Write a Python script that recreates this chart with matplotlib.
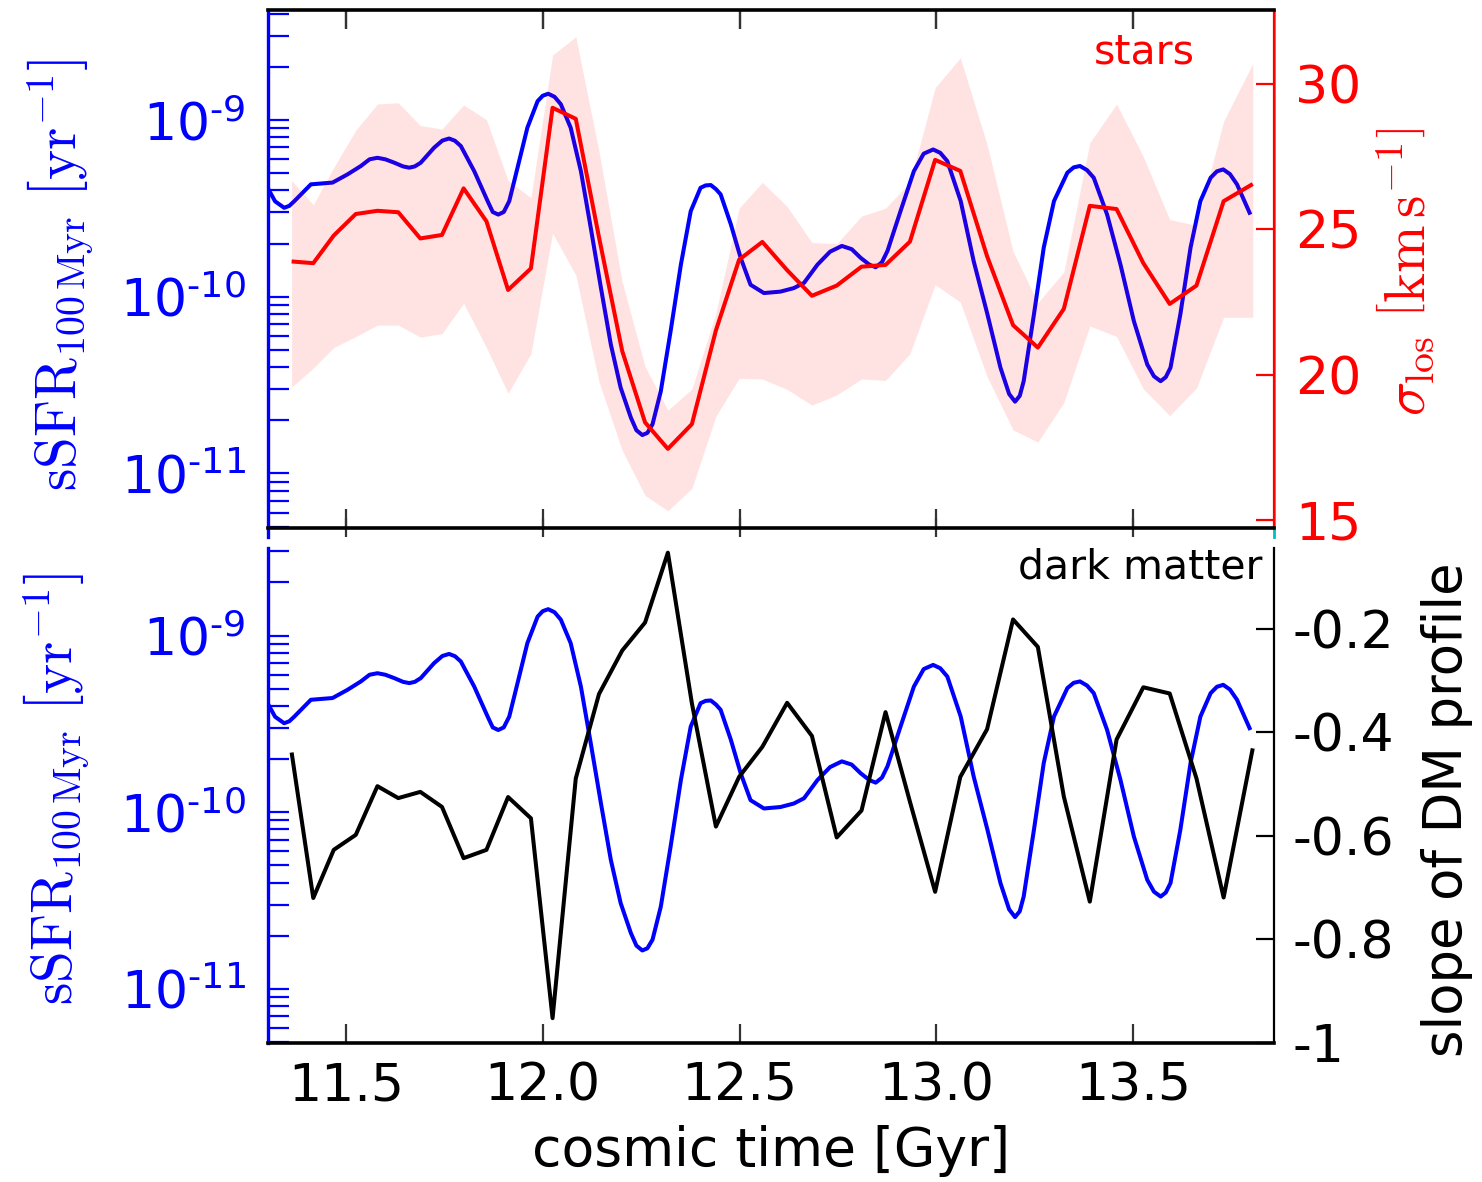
import numpy as np
import matplotlib
matplotlib.use("Agg")
import matplotlib.pyplot as plt
from matplotlib.ticker import FuncFormatter, LogLocator, FixedLocator, NullFormatter

plt.rcParams['axes.unicode_minus'] = False
plt.rcParams['font.family'] = ['DejaVu Sans']
plt.rcParams['mathtext.fontset'] = 'dejavusans'

# ---------------- data ----------------
# specific star formation rate (smooth curve), cosmic time in Gyr
t_ssfr = [11.301, 11.320, 11.343, 11.356, 11.369, 11.411, 11.466, 11.504, 11.538, 11.560,
          11.580, 11.600, 11.623, 11.645, 11.661, 11.675, 11.690, 11.724, 11.745, 11.762,
          11.777, 11.792, 11.826, 11.860, 11.873, 11.887, 11.901, 11.915, 11.936, 11.961,
          11.987, 12.000, 12.014, 12.030, 12.046, 12.071, 12.097, 12.122, 12.148, 12.173,
          12.198, 12.224, 12.238, 12.253, 12.266, 12.279, 12.300, 12.325, 12.351, 12.376,
          12.401, 12.414, 12.427, 12.440, 12.452, 12.478, 12.503, 12.528, 12.562, 12.604,
          12.638, 12.664, 12.698, 12.730, 12.760, 12.785, 12.808, 12.830, 12.846, 12.862,
          12.876, 12.909, 12.943, 12.968, 12.992, 13.010, 13.028, 13.062, 13.095, 13.130,
          13.163, 13.185, 13.200, 13.212, 13.222, 13.248, 13.273, 13.299, 13.333, 13.349,
          13.365, 13.383, 13.400, 13.434, 13.468, 13.502, 13.536, 13.553, 13.570, 13.583,
          13.595, 13.620, 13.646, 13.671, 13.697, 13.713, 13.729, 13.746, 13.764, 13.798]
ssfr = [4.14e-10, 3.47e-10, 3.19e-10, 3.27e-10, 3.48e-10, 4.33e-10, 4.43e-10, 4.93e-10, 5.50e-10, 6.00e-10,
        6.12e-10, 6.00e-10, 5.74e-10, 5.47e-10, 5.38e-10, 5.47e-10, 5.74e-10, 6.98e-10, 7.66e-10, 7.87e-10,
        7.64e-10, 7.13e-10, 5.14e-10, 3.48e-10, 3.02e-10, 2.92e-10, 3.02e-10, 3.48e-10, 5.38e-10, 9.06e-10,
        1.28e-9, 1.374e-9, 1.41e-9, 1.355e-9, 1.23e-9, 9.06e-10, 5.14e-10, 2.46e-10, 1.12e-10, 5.38e-11,
        3.06e-11, 2.07e-11, 1.758e-11, 1.65e-11, 1.698e-11, 1.90e-11, 2.92e-11, 6.40e-11, 1.52e-10, 3.05e-10,
        4.14e-10, 4.27e-10, 4.29e-10, 4.07e-10, 3.80e-10, 2.57e-10, 1.66e-10, 1.17e-10, 1.05e-10, 1.07e-10,
        1.12e-10, 1.20e-10, 1.52e-10, 1.80e-10, 1.94e-10, 1.86e-10, 1.66e-10, 1.52e-10, 1.47e-10, 1.57e-10,
        1.82e-10, 3.05e-10, 5.14e-10, 6.46e-10, 6.82e-10, 6.53e-10, 5.86e-10, 3.48e-10, 1.59e-10, 7.94e-11,
        3.97e-11, 2.82e-11, 2.55e-11, 2.75e-11, 3.33e-11, 7.94e-11, 1.90e-10, 3.48e-10, 5.04e-10, 5.40e-10,
        5.50e-10, 5.21e-10, 4.72e-10, 2.92e-10, 1.52e-10, 7.28e-11, 4.14e-11, 3.55e-11, 3.33e-11, 3.51e-11,
        3.97e-11, 7.94e-11, 1.90e-10, 3.48e-10, 4.72e-10, 5.13e-10, 5.26e-10, 4.95e-10, 4.33e-10, 2.92e-10]

# snapshot times
t_snap = [11.362, 11.417, 11.469, 11.525, 11.580, 11.633, 11.689, 11.744, 11.799, 11.857,
          11.912, 11.970, 12.025, 12.084, 12.143, 12.202, 12.260, 12.318, 12.379, 12.440,
          12.499, 12.558, 12.621, 12.684, 12.747, 12.810, 12.871, 12.933, 12.997, 13.061,
          13.129, 13.195, 13.258, 13.324, 13.390, 13.458, 13.526, 13.593, 13.661, 13.730, 13.804]
# stellar line-of-sight velocity dispersion [km/s]
sigma_los = [23.89, 23.83, 24.78, 25.52, 25.63, 25.58, 24.68, 24.80, 26.40, 25.27,
             22.91, 23.65, 29.17, 28.79, 24.72, 20.81, 18.36, 17.45, 18.30, 21.52,
             23.95, 24.56, 23.59, 22.71, 23.06, 23.71, 23.77, 24.57, 27.38, 27.00,
             24.07, 21.70, 20.93, 22.26, 25.80, 25.69, 23.83, 22.43, 23.06, 25.96, 26.55]
sigma_hi = [26.67, 25.84, 27.12, 28.40, 29.30, 29.34, 28.56, 28.44, 29.27, 28.76,
            26.67, 26.08, 30.98, 31.61, 27.67, 23.18, 20.28, 18.78, 19.51, 22.12,
            25.72, 26.61, 25.78, 24.54, 24.50, 25.45, 25.72, 26.61, 29.86, 30.89,
            27.91, 24.24, 22.47, 23.53, 27.97, 29.30, 27.49, 25.33, 25.13, 28.71, 30.69]
sigma_lo = [19.57, 20.22, 20.93, 21.31, 21.70, 21.70, 21.29, 21.41, 22.45, 20.93,
            19.36, 20.72, 24.86, 23.42, 19.75, 17.39, 15.85, 15.32, 16.09, 18.57,
            19.87, 19.85, 19.49, 18.95, 19.30, 19.85, 19.80, 20.72, 23.09, 22.49,
            19.93, 18.10, 17.68, 19.04, 21.67, 21.31, 19.51, 18.59, 19.54, 21.97, 21.97]
# slope of the dark matter density profile
dm_slope = [-0.439, -0.720, -0.627, -0.598, -0.504, -0.527, -0.515, -0.544, -0.643, -0.627,
            -0.525, -0.566, -0.952, -0.489, -0.326, -0.242, -0.188, -0.053, -0.344, -0.582,
            -0.486, -0.428, -0.343, -0.407, -0.603, -0.551, -0.361, -0.534, -0.708, -0.486,
            -0.394, -0.182, -0.235, -0.524, -0.727, -0.414, -0.313, -0.325, -0.489, -0.719, -0.431]

x_ticks = [11.5, 12.0, 12.5, 13.0, 13.5]
ssfr_major_ticks = [1e-11, 1e-10, 1e-9]
sigma_ticks = [15, 20, 25, 30]
slope_ticks = [-1.0, -0.8, -0.6, -0.4, -0.2]

# ---------------- figure ----------------
W, H = 1482, 1182
fig = plt.figure(figsize=(W / 100, H / 100), dpi=100)


def frac(x0, y0, x1, y1):
    return [x0 / W, 1 - y1 / H, (x1 - x0) / W, (y1 - y0) / H]


BIG = 37.5
LAB = 41
BLUE = '#0000ff'
TICKC = '#333333'

ax_sb = fig.add_axes(frac(268, 10, 1274, 537))
ax_r = fig.add_axes(frac(268, 10, 1274, 528), sharex=ax_sb)
ax_sb2 = fig.add_axes(frac(268, 548, 1274, 1043), sharex=ax_sb)
ax_k = fig.add_axes(frac(268, 548, 1274, 1043), sharex=ax_sb)

xlim = (11.302, 13.858)


def logfmt(v, pos):
    e = int(round(np.log10(v)))
    return r'$\mathdefault{10^{\text{-}%d}}$' % (-e)


def setup_log(ax, ylim):
    ax.set_yscale('log')
    ax.set_ylim(*ylim)
    ax.yaxis.set_major_locator(FixedLocator(ssfr_major_ticks))
    ax.yaxis.set_minor_locator(LogLocator(base=10, subs=np.arange(2, 10), numticks=20))
    ax.yaxis.set_major_formatter(FuncFormatter(logfmt))
    ax.yaxis.set_minor_formatter(NullFormatter())
    ax.tick_params(axis='y', which='both', direction='in', length=15, width=1.6,
                   color=BLUE, labelcolor=BLUE, labelsize=BIG, pad=16, left=True, right=False)
    ax.spines['left'].set_color(BLUE)
    ax.spines['left'].set_linewidth(2.4)
    ax.spines['top'].set_visible(False)


LINE_KW = dict(lw=2.9, solid_joinstyle='round', solid_capstyle='butt')

# ---- top panel: sSFR (blue, log) ----
ax_sb.plot(t_ssfr, ssfr, color=BLUE, **LINE_KW)
setup_log(ax_sb, (4.37e-12, 4.2e-9))
ax_sb.spines['bottom'].set_visible(False)
ax_sb.spines['right'].set_color('c')
ax_sb.spines['right'].set_linewidth(2.0)
ax_sb.set_xlim(*xlim)
ax_sb.set_xticks(x_ticks)
ax_sb.tick_params(axis='x', which='major', direction='in', length=14, width=1.6, color=TICKC,
                  top=True, bottom=True, labelbottom=False)
ax_sb.tick_params(axis='x', which='minor', bottom=False, top=False)
ax_sb.set_ylabel(r'$\mathrm{sSFR}_{\mathrm{100\,Myr}}\ \left[\mathrm{yr}^{-1}\right]$',
                 color=BLUE, fontsize=LAB, math_fontfamily='cm')
ax_sb.yaxis.set_label_coords(-0.171, 0.498)

# ---- top panel: sigma_los (red) ----
ax_r.patch.set_visible(False)
ax_r.fill_between(t_snap, sigma_lo, sigma_hi, color='red', alpha=0.11, lw=0)
ax_r.plot(t_snap, sigma_los, color='red', **LINE_KW)
ax_r.set_ylim(14.73, 32.53)
ax_r.yaxis.tick_right()
ax_r.yaxis.set_label_position('right')
ax_r.yaxis.set_major_locator(FixedLocator(sigma_ticks))
ax_r.yaxis.set_major_formatter(FuncFormatter(lambda v, p: '%d' % v))
ax_r.tick_params(axis='y', direction='in', length=13, width=1.6, color='red', labelcolor='red',
                 labelsize=BIG, pad=15, left=False, right=True)
ax_r.spines['left'].set_visible(False)
ax_r.spines['right'].set_color('red')
ax_r.spines['right'].set_linewidth(1.6)
for s in ('top', 'bottom'):
    ax_r.spines[s].set_linewidth(2.6)
    ax_r.spines[s].set_color('black')
ax_r.tick_params(axis='x', which='major', direction='in', length=14, width=1.6, color=TICKC,
                 top=True, bottom=True, labelbottom=False)
ax_r.set_ylabel(r'$\sigma_{\mathrm{los}}\ \left[\mathrm{km\,s}^{-1}\right]$',
                color='red', fontsize=LAB, math_fontfamily='cm')
ax_r.yaxis.set_label_coords(1.101, 0.494)
ax_r.text(0.9215, 0.917, 'stars', color='red', fontsize=29.5, ha='right', va='center',
          transform=ax_r.transAxes)

# ---- bottom panel: sSFR (blue, log) ----
ax_sb2.plot(t_ssfr, ssfr, color=BLUE, **LINE_KW)
setup_log(ax_sb2, (4.94e-12, 3.13e-9))
ax_sb2.spines['bottom'].set_linewidth(2.6)
ax_sb2.spines['right'].set_visible(False)
ax_sb2.set_xticks(x_ticks)
ax_sb2.tick_params(axis='x', which='major', direction='in', length=14, width=1.6, color=TICKC,
                   top=False, bottom=True, labelbottom=True, labelsize=BIG, labelcolor='black', pad=13)
ax_sb2.tick_params(axis='x', which='minor', bottom=False, top=False)
ax_sb2.set_ylabel(r'$\mathrm{sSFR}_{\mathrm{100\,Myr}}\ \left[\mathrm{yr}^{-1}\right]$',
                  color=BLUE, fontsize=LAB, math_fontfamily='cm')
ax_sb2.yaxis.set_label_coords(-0.175, 0.513)
ax_sb2.set_xlabel('cosmic time [Gyr]', fontsize=38.5)
ax_sb2.xaxis.set_label_coords(0.5, -0.165)

# ---- bottom panel: DM slope (black) ----
ax_k.patch.set_visible(False)
ax_k.plot(t_snap, dm_slope, color='black', **LINE_KW)
ax_k.set_ylim(-1.0, -0.044)
ax_k.yaxis.tick_right()
ax_k.yaxis.set_label_position('right')
ax_k.yaxis.set_major_locator(FixedLocator(slope_ticks))
ax_k.yaxis.set_major_formatter(FuncFormatter(lambda v, p: '%g' % v))
ax_k.tick_params(axis='y', direction='in', length=13, width=1.6, color='black', labelcolor='black',
                 labelsize=BIG, pad=13, left=False, right=True)
for s in ('left', 'top', 'bottom'):
    ax_k.spines[s].set_visible(False)
ax_k.spines['right'].set_linewidth(1.6)
ax_k.tick_params(axis='x', which='both', bottom=False, top=False, labelbottom=False)
ax_k.set_ylabel('slope of DM profile', fontsize=38)
ax_k.yaxis.set_label_coords(1.146, 0.471)
ax_k.text(0.989, 0.960, 'dark matter', color='black', fontsize=29.5, ha='right', va='center',
          transform=ax_k.transAxes)

ax_sb.set_xlim(*xlim)
fig.savefig('out.png', dpi=100)
